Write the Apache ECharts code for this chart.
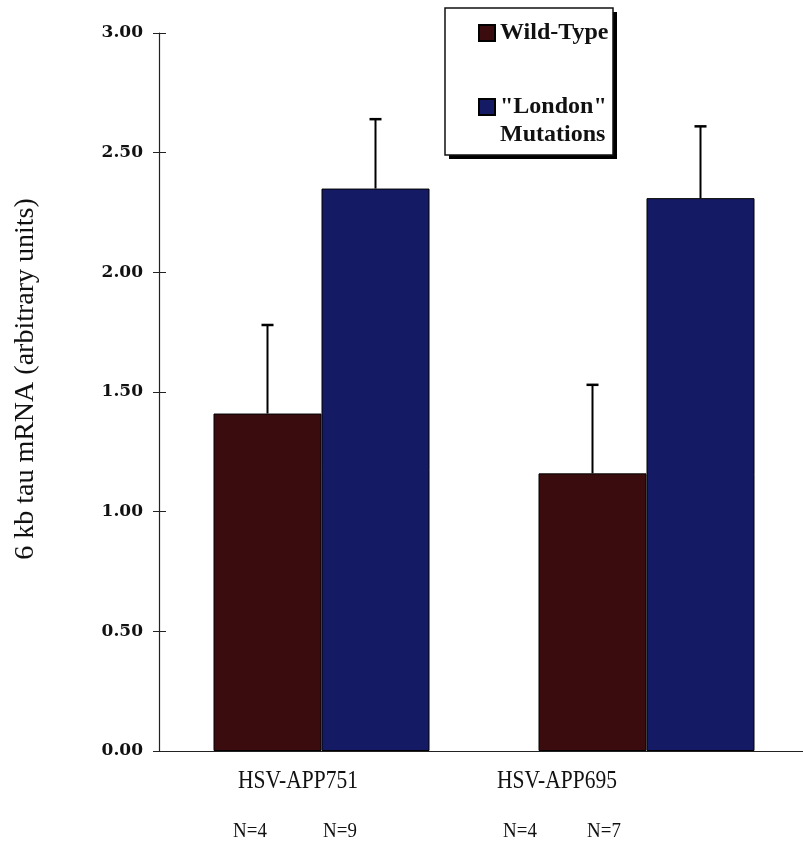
<!DOCTYPE html>
<html>
<head>
<meta charset="utf-8">
<script src="https://cdn.jsdelivr.net/npm/echarts@6/dist/echarts.min.js"></script>
<style>
  html, body { margin: 0; padding: 0; background: #ffffff; }
  #chart { width: 803px; height: 846px; }
</style>
</head>
<body>
<div id="chart"></div>
<script>
// Tau mRNA levels for wild-type vs "London" mutant APP constructs
const categories = ['HSV-APP751', 'HSV-APP695'];
const seriesNames = ['Wild-Type', '"London" Mutations'];
const wildType = [1.41, 1.16];
const wildTypeErr = [0.37, 0.37];
const london = [2.35, 2.31];
const londonErr = [0.29, 0.30];
const sampleSizes = [['N=4', 'N=9'], ['N=4', 'N=7']];
const yMin = 0, yMax = 3, yStep = 0.5;

const BAR_W = 108;
const SERIF = '"Liberation Serif", "Times New Roman", serif';
const WT_COLOR = '#3a0c0e';
const LD_COLOR = '#151a64';

const chart = echarts.init(document.getElementById('chart'), null, { renderer: 'canvas' });

// Error bars: a vertical whisker from the mean up to mean + error, capped on top
function errorSeries(means, errs, side) {
  return {
    type: 'custom',
    data: means.map((m, i) => [i, m, m + errs[i]]),
    encode: { x: 0, y: [1, 2] },
    silent: true,
    z: 3,
    renderItem(params, api) {
      const base = api.coord([api.value(0), api.value(1)]);
      const top = api.coord([api.value(0), api.value(2)]);
      const x = base[0] + side * BAR_W / 2;
      return {
        type: 'group',
        children: [
          { type: 'line', shape: { x1: x, y1: base[1], x2: x, y2: top[1] },
            style: { stroke: '#000', lineWidth: 2 } },
          { type: 'line', shape: { x1: x - 6, y1: top[1], x2: x + 6, y2: top[1] },
            style: { stroke: '#000', lineWidth: 2.5 } }
        ]
      };
    }
  };
}

const yAxisCommon = {
  type: 'value',
  min: yMin,
  max: yMax,
  interval: yStep,
  position: 'left',
  splitLine: { show: false }
};

// Text under the axis: group names and sample sizes
const labelGraphics = [];
const groupLabelX = [298, 557];
const nLabelX = [[250, 340], [520, 604]];
categories.forEach((c, i) => {
  labelGraphics.push({
    type: 'text', x: groupLabelX[i], y: 781, scaleX: 0.86, z: 10,
    style: { text: c, font: '25px ' + SERIF, fill: '#111', textAlign: 'center', textVerticalAlign: 'middle' }
  });
  sampleSizes[i].forEach((n, j) => {
    labelGraphics.push({
      type: 'text', x: nLabelX[i][j], y: 831, scaleX: 0.9, z: 10,
      style: { text: n, font: '21px ' + SERIF, fill: '#111', textAlign: 'center', textVerticalAlign: 'middle' }
    });
  });
});

const legendText = {
  fontFamily: SERIF,
  fontWeight: 'bold',
  fontSize: 24,
  color: '#111',
  lineHeight: 28
};

chart.setOption({
  backgroundColor: '#ffffff',
  animation: false,
  grid: { left: 159, top: 33, bottom: 95, width: 650, containLabel: false, outerBoundsMode: 'none' },
  xAxis: {
    type: 'category',
    data: categories,
    axisLine: { lineStyle: { color: '#222', width: 1.2 } },
    axisTick: { show: false },
    axisLabel: { show: false }
  },
  yAxis: [
    Object.assign({}, yAxisCommon, {
      name: '6 kb tau mRNA (arbitrary units)',
      nameLocation: 'middle',
      nameRotate: 90,
      nameGap: 119,
      nameTextStyle: { fontFamily: SERIF, fontSize: 28, color: '#111', padding: [0, 0, 0, 26] },
      axisLine: { show: true, lineStyle: { color: '#222', width: 1.2 } },
      axisTick: { show: true, length: 6, lineStyle: { color: '#222', width: 1 } },
      axisLabel: {
        margin: 16,
        formatter: v => v.toFixed(2),
        fontFamily: '"DejaVu Serif", serif',
        fontWeight: 'bold',
        fontSize: 17,
        color: '#111'
      }
    }),
    Object.assign({}, yAxisCommon, {
      axisLine: { show: false },
      axisTick: { show: true, inside: true, length: 7, lineStyle: { color: '#222', width: 1 } },
      axisLabel: { show: false }
    })
  ],
  legend: [
    {
      data: [seriesNames[0]],
      left: 478, top: 19, padding: 0, z: 10,
      itemWidth: 16, itemHeight: 16, icon: 'rect', itemGap: 0,
      textStyle: legendText,
      selectedMode: false
    },
    {
      data: [seriesNames[1]],
      left: 478, top: 65, padding: 0, z: 10,
      itemWidth: 16, itemHeight: 16, icon: 'rect',
      // blank first line keeps the swatch level with the first word
      formatter: name => '\n' + name.replace(' ', '\n'),
      textStyle: legendText,
      selectedMode: false
    }
  ],
  graphic: [
    {
      type: 'rect', z: 1,
      shape: { x: 449, y: 12, width: 168, height: 147 },
      style: { fill: '#000' }
    },
    {
      type: 'rect', z: 2,
      shape: { x: 445, y: 8, width: 168, height: 147 },
      style: { fill: '#fff', stroke: '#111', lineWidth: 1.5 }
    }
  ].concat(labelGraphics),
  series: [
    {
      name: seriesNames[0],
      type: 'bar',
      data: wildType,
      barWidth: BAR_W,
      barGap: '0%',
      itemStyle: { color: WT_COLOR, borderColor: '#000', borderWidth: 1 }
    },
    {
      name: seriesNames[1],
      type: 'bar',
      data: london,
      barWidth: BAR_W,
      barGap: '0%',
      itemStyle: { color: LD_COLOR, borderColor: '#000', borderWidth: 1 }
    },
    errorSeries(wildType, wildTypeErr, -1),
    errorSeries(london, londonErr, 1)
  ]
});
</script>
</body>
</html>
